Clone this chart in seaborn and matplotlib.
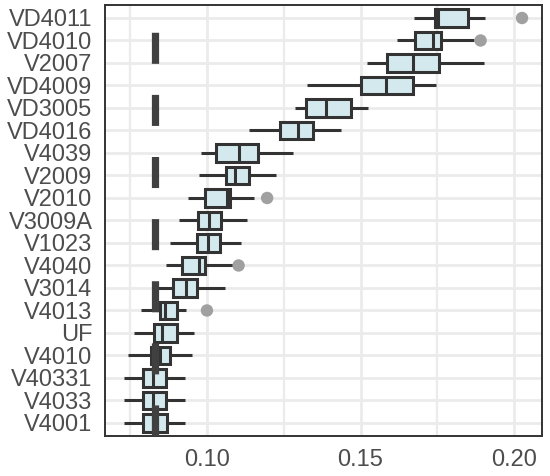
import numpy as np
import pandas as pd
import matplotlib
matplotlib.use("Agg")
import matplotlib.pyplot as plt
import seaborn as sns
from matplotlib.ticker import MultipleLocator

categories = ["VD4011", "VD4010", "V2007", "VD4009", "VD3005", "VD4016", "V4039",
              "V2009", "V2010", "V3009A", "V1023", "V4040", "V3014", "V4013", "UF",
              "V4010", "V40331", "V4033", "V4001"]
whisker_low = [0.1674, 0.1620, 0.1522, 0.1325, 0.1287, 0.1136, 0.0980, 0.0975, 0.0937,
               0.0910, 0.0880, 0.0868, 0.0830, 0.0785, 0.0763, 0.0744, 0.0730, 0.0730, 0.0730]
q1 = [0.1741, 0.1676, 0.1586, 0.1500, 0.1323, 0.1239, 0.1029, 0.1062, 0.0993,
      0.0971, 0.0968, 0.0918, 0.0888, 0.0847, 0.0828, 0.0817, 0.0793, 0.0793, 0.0793]
median = [0.1752, 0.1737, 0.1672, 0.1582, 0.1388, 0.1296, 0.1105, 0.1090, 0.1065,
          0.1008, 0.1002, 0.0975, 0.0932, 0.0862, 0.0853, 0.0847, 0.0825, 0.0825, 0.0825]
q3 = [0.1850, 0.1763, 0.1754, 0.1670, 0.1468, 0.1344, 0.1165, 0.1136, 0.1076,
      0.1046, 0.1042, 0.0993, 0.0967, 0.0901, 0.0901, 0.0879, 0.0866, 0.0866, 0.0870]
whisker_high = [0.1907, 0.1869, 0.1901, 0.1745, 0.1525, 0.1437, 0.1279, 0.1224, 0.1154,
                0.1129, 0.1111, 0.1095, 0.1060, 0.0933, 0.0959, 0.0951, 0.0928, 0.0928, 0.0928]
outlier_cats = ["VD4011", "VD4010", "V2010", "V4040", "V4013"]
outlier_vals = [0.2026, 0.1891, 0.1196, 0.1103, 0.1000]
reference_x = 0.0831
xticks = [0.10, 0.15, 0.20]
xtick_labels = ["0.10", "0.15", "0.20"]

rows = []
for i, c in enumerate(categories):
    for v in (whisker_low[i], q1[i], median[i], q3[i], whisker_high[i]):
        rows.append({"group": c, "value": v})
df = pd.DataFrame(rows)
out_df = pd.DataFrame({"group": outlier_cats, "value": outlier_vals})

sns.set_theme(style="white")
plt.rcParams["font.family"] = ["Liberation Sans", "DejaVu Sans"]

fig = plt.figure(figsize=(5.5, 4.76), dpi=100)
ax = fig.add_axes([105 / 550, 1 - 436 / 476, 437 / 550, 431.5 / 476])

edge = "#333333"
sns.boxplot(data=df, x="value", y="group", order=categories, orient="h", ax=ax,
            whis=(0, 100), width=0.78, color="#d4e9ee", linecolor=edge,
            linewidth=2.2, fliersize=0, showcaps=False, zorder=3)
for p in ax.patches:
    p.set_facecolor("#d4e9ee")
sns.scatterplot(data=out_df, x="value", y="group", ax=ax, color="#a0a0a0",
                s=80, edgecolor="none", zorder=4, legend=False)

ax.axvline(reference_x, color="#404040", lw=5.2, zorder=5,
           linestyle=(0, (4.3, 4.3)), solid_capstyle="butt", dash_capstyle="butt")

ax.set_xlim(0.0668, 0.2091)
ax.set_ylim(len(categories) - 1 + 0.58, -0.6)
ax.set_xticks(xticks)
ax.set_xticklabels(xtick_labels)
ax.xaxis.set_minor_locator(MultipleLocator(0.025))
ax.set_xlabel("")
ax.set_ylabel("")

ax.grid(True, which="major", axis="both", color="#ebebeb", lw=2.0, zorder=0)
ax.grid(True, which="minor", axis="x", color="#ebebeb", lw=1.6, zorder=0)
ax.set_axisbelow(True)
ax.tick_params(which="minor", length=0)
ax.tick_params(which="major", length=5, width=2.2, color=edge, labelsize=17,
               labelcolor="#4d4d4d", pad=4)
for s in ax.spines.values():
    s.set_visible(True)
    s.set_color(edge)
    s.set_linewidth(1.4)

fig.savefig("out.png", dpi=100)
